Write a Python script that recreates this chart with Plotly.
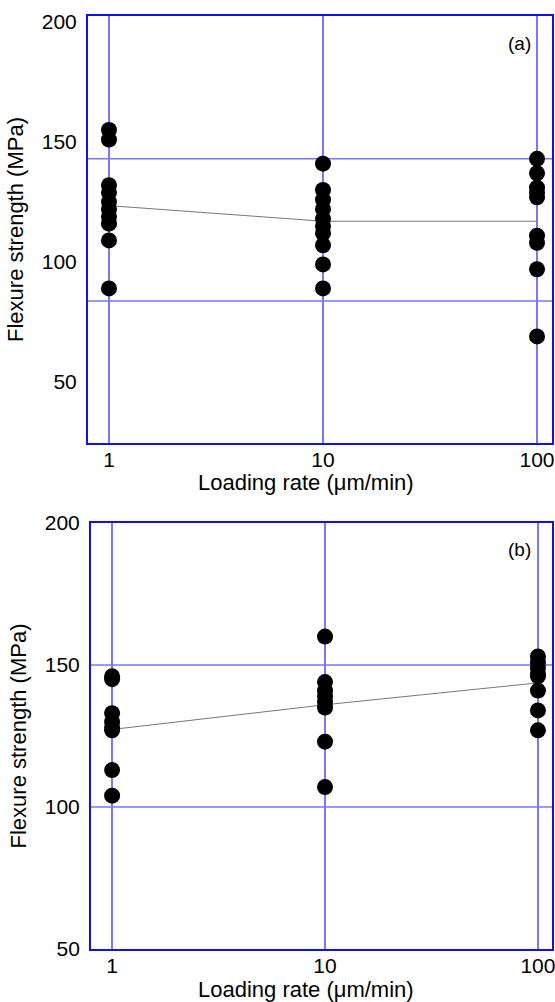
import plotly.graph_objects as go

# ---- data ----
rates = [1, 10, 100]

a_rate1 = [155, 151, 132, 129, 125, 122, 119, 116, 109, 89]
a_rate10 = [141, 130, 126, 122, 118, 115, 112, 107, 99, 89]
a_rate100 = [143, 137, 131, 129, 127, 111, 108, 97, 69]
a_mean = [123.5, 117, 117]

b_rate1 = [146, 145, 133, 130, 128, 127, 113, 104]
b_rate10 = [160, 144, 141, 139, 137, 135, 123, 107]
b_rate100 = [153, 151, 149, 147, 146, 141, 134, 127]
b_mean = [127.3, 136, 143.7]

y_ticks = [50, 100, 150, 200]
x_ticks = [1, 10, 100]
a_hgrid = [143, 83.75]
b_hgrid = [150, 100]

x_title = "Loading rate (μm/min)"
y_title = "Flexure strength (MPa)"

BLUE = "#1010f0"
GRID = "#7777ff"
FONT = "Liberation Sans, Arial, sans-serif"

fig = go.Figure()


def add_panel(groups, mean, xa, ya):
    fig.add_trace(go.Scatter(x=rates, y=mean, mode="lines",
                             line=dict(color="#777777", width=1),
                             xaxis=xa, yaxis=ya, showlegend=False))
    for r, vals in zip(rates, groups):
        fig.add_trace(go.Scatter(x=[r] * len(vals), y=vals, mode="markers",
                                 marker=dict(color="black", size=16),
                                 xaxis=xa, yaxis=ya, showlegend=False))


add_panel([a_rate1, a_rate10, a_rate100], a_mean, "x", "y")
add_panel([b_rate1, b_rate10, b_rate100], b_mean, "x2", "y2")

xcommon = dict(type="log", tickvals=x_ticks, ticktext=[str(v) for v in x_ticks],
               showgrid=True, gridcolor=GRID, gridwidth=1.5,
               showline=True, linecolor=BLUE, linewidth=2, mirror=True,
               ticks="", zeroline=False, automargin=False, ticklabelstandoff=-3,
               ticklabeloverflow="allow",
               tickfont=dict(family=FONT, size=21, color="black"))
ycommon = dict(tickvals=y_ticks, showgrid=False,
               showline=True, linecolor=BLUE, linewidth=2, mirror=True,
               ticks="", zeroline=False, automargin=False, ticklabelstandoff=5,
               tickfont=dict(family=FONT, size=21, color="black"),
               title=dict(text=y_title,
                          font=dict(family=FONT, size=22, color="black"),
                          standoff=12))

shapes = []
for v in a_hgrid:
    shapes.append(dict(type="line", xref="x domain", yref="y", x0=0, x1=1, y0=v, y1=v,
                       line=dict(color=GRID, width=1.5), layer="below"))
for v in b_hgrid:
    shapes.append(dict(type="line", xref="x2 domain", yref="y2", x0=0, x1=1, y0=v, y1=v,
                       line=dict(color=GRID, width=1.5), layer="below"))

title_font = dict(family=FONT, size=22, color="black")
fig.update_layout(
    width=555, height=1002,
    margin=dict(l=88, r=3, t=16, b=53),
    paper_bgcolor="white", plot_bgcolor="white",
    xaxis=dict(xcommon, domain=[0, 1], range=[-0.098, 2.07], anchor="y"),
    yaxis=dict(ycommon, domain=[0.5423, 1], range=[24.6, 202.5], anchor="x"),
    xaxis2=dict(xcommon, domain=[0.0065, 1], range=[-0.099, 2.066], anchor="y2"),
    yaxis2=dict(ycommon, domain=[0, 0.4566], range=[50, 200], anchor="x2"),
    shapes=shapes,
    annotations=[
        dict(text="(a)", xref="paper", yref="paper", x=0.959, y=0.971,
             xanchor="right", yanchor="middle", showarrow=False,
             font=dict(family=FONT, size=19, color="black")),
        dict(text="(b)", xref="paper", yref="paper", x=0.959, y=0.4277,
             xanchor="right", yanchor="middle", showarrow=False,
             font=dict(family=FONT, size=19, color="black")),
        dict(text=x_title, xref="paper", yref="paper", x=0.47, y=0.5005,
             xanchor="center", yanchor="middle", showarrow=False, font=title_font),
        dict(text=x_title, xref="paper", yref="paper", x=0.47, y=-0.0435,
             xanchor="center", yanchor="middle", showarrow=False, font=title_font),
    ],
)

fig.write_html(
    "out.html",
    config={"displayModeBar": False},
    post_script="document.body.style.margin='0';"
                "document.documentElement.style.overflow='hidden';",
)
